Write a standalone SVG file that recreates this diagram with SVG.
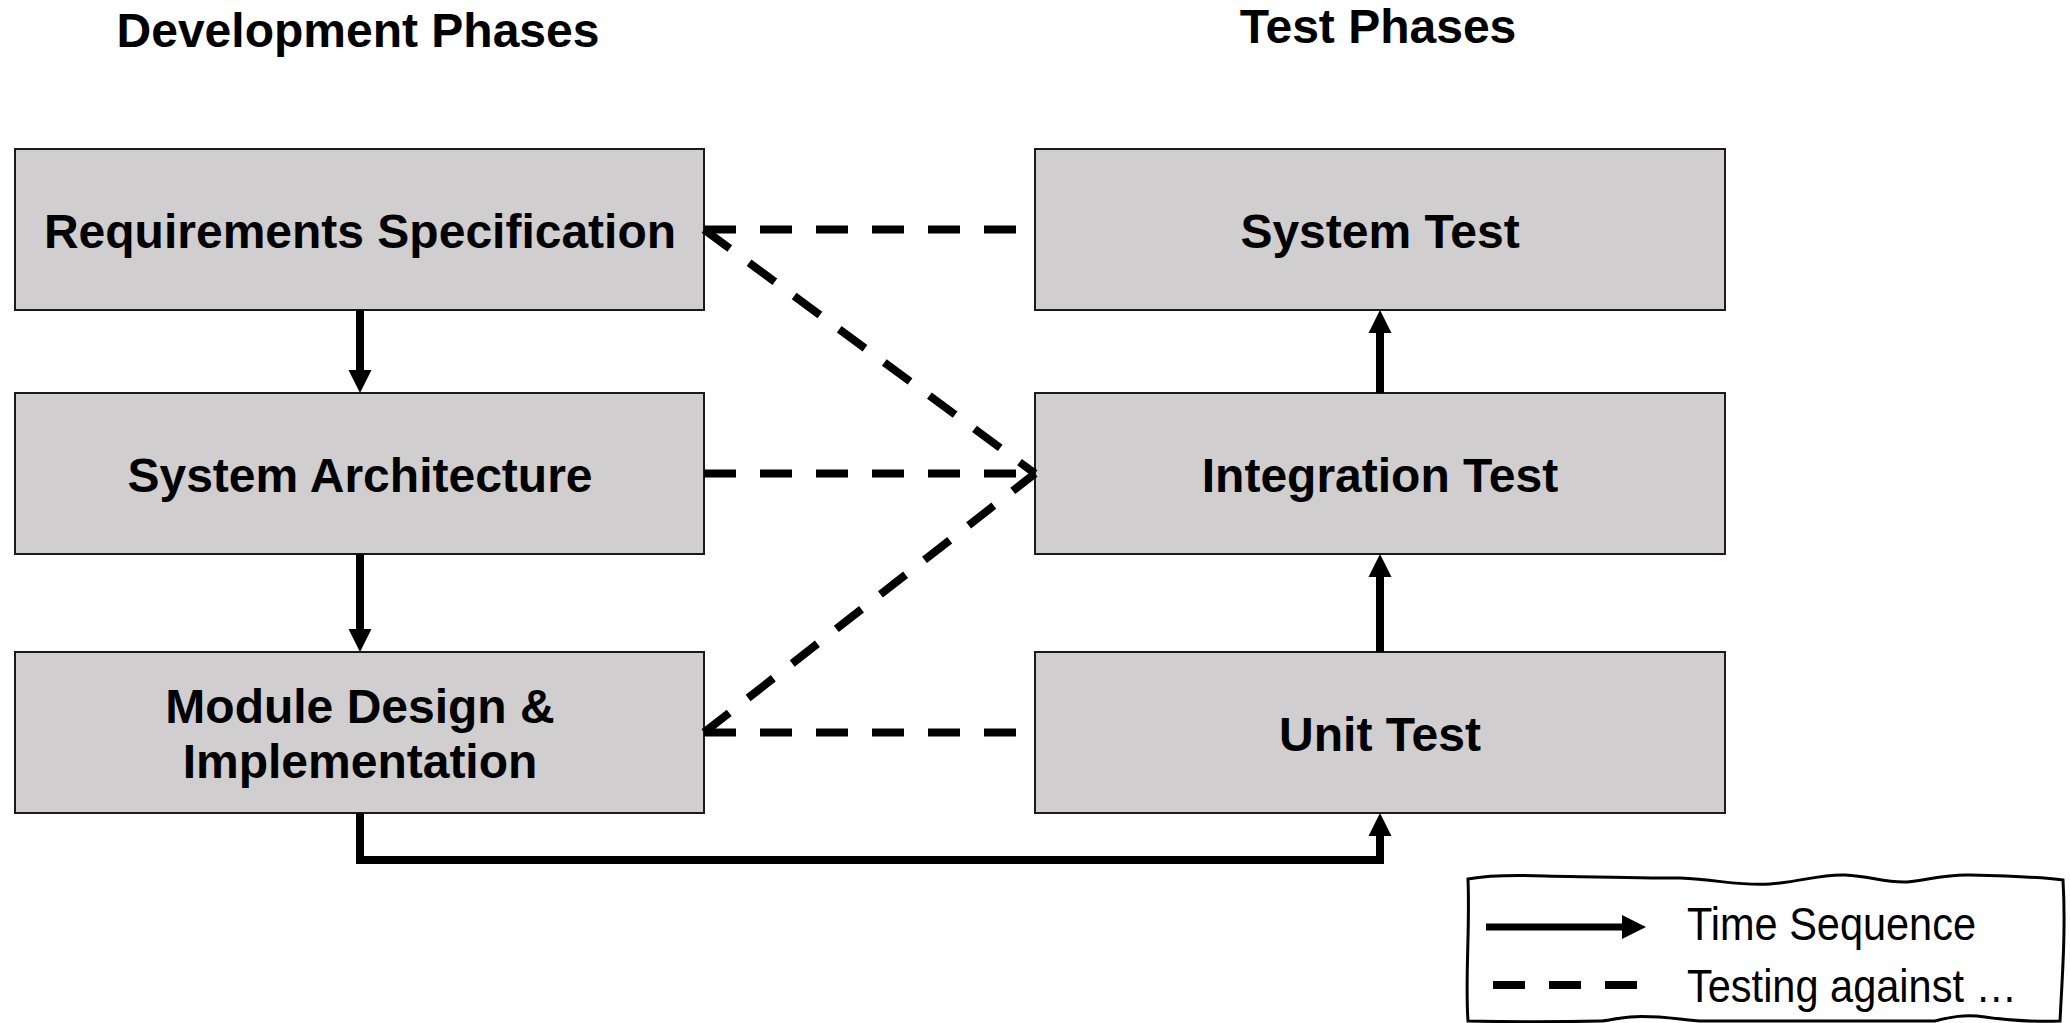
<svg xmlns="http://www.w3.org/2000/svg" width="2070" height="1023" viewBox="0 0 2070 1023">
<style>
.box{fill:#d0cecf;stroke:#1a1a1a;stroke-width:2}
.lbl{font-family:"Liberation Sans",Arial,Helvetica,sans-serif;font-weight:bold;font-size:48px;fill:#000;text-anchor:middle}
.hdr{font-family:"Liberation Sans",Arial,Helvetica,sans-serif;font-weight:bold;font-size:48px;fill:#000;text-anchor:middle}
.solid{fill:none;stroke:#000;stroke-width:8;marker-end:url(#ah)}
.dash{fill:none;stroke:#000;stroke-width:8;stroke-dasharray:32 24}
.leg{font-family:"Liberation Sans",Arial,Helvetica,sans-serif;font-weight:300;font-size:46px;fill:#000}
</style>
<defs>
<marker id="ah" markerUnits="userSpaceOnUse" markerWidth="30" markerHeight="30" refX="0" refY="11.5" orient="auto" overflow="visible">
<path d="M0,0 L23,11.5 L0,23 z" fill="#000"/>
</marker>
</defs>
<rect width="2070" height="1023" fill="#fff"/>
<g id="headers">
<text class="hdr" x="358" y="47">Development Phases</text>
<text class="hdr" x="1378" y="43">Test Phases</text>
</g>
<g id="req">
<rect class="box" x="15" y="149" width="689" height="161"/>
<text class="lbl" x="360" y="248">Requirements Specification</text>
</g>
<g id="arch">
<rect class="box" x="15" y="393" width="689" height="161"/>
<text class="lbl" x="360" y="492">System Architecture</text>
</g>
<g id="module">
<rect class="box" x="15" y="652" width="689" height="161"/>
<text class="lbl" x="360" y="723">Module Design &amp;</text>
<text class="lbl" x="360" y="778">Implementation</text>
</g>
<g id="systest">
<rect class="box" x="1035" y="149" width="690" height="161"/>
<text class="lbl" x="1380" y="248">System Test</text>
</g>
<g id="inttest">
<rect class="box" x="1035" y="393" width="690" height="161"/>
<text class="lbl" x="1380" y="492">Integration Test</text>
</g>
<g id="unittest">
<rect class="box" x="1035" y="652" width="690" height="161"/>
<text class="lbl" x="1380" y="751">Unit Test</text>
</g>
<g id="connectors">
<path class="solid" d="M360,310 V370"/>
<path class="solid" d="M360,554 V629"/>
<path class="solid" d="M360,813 V860 H1380 V836"/>
<path class="solid" d="M1380,652 V577"/>
<path class="solid" d="M1380,393 V333"/>
<path class="dash" d="M704,229.5 H1035"/>
<path class="dash" d="M704,473.5 H1035"/>
<path class="dash" d="M704,732.5 H1035"/>
<path class="dash" d="M704,229.5 L1035,473.5"/>
<path class="dash" d="M704,732.5 L1035,473.5"/>
</g>
<g id="legend">
<path d="M1468,879 C1490,875 1515,875 1545,876 C1600,877 1640,878 1680,878 C1720,880 1740,886 1770,884 C1800,882 1820,874 1845,875 C1870,876 1885,883 1907,882 C1930,880 1945,874 1970,875 C2010,876 2040,877 2063,880 C2066,930 2062,980 2060,1021 C2030,1022 2005,1020 1985,1017 C1965,1014 1950,1017 1935,1021 C1880,1021 1760,1021 1700,1021 C1675,1019 1655,1015 1630,1017 C1615,1018 1608,1021 1600,1021 C1560,1022 1510,1022 1468,1021 C1465,980 1470,930 1468,879 Z" fill="#fff" stroke="#000" stroke-width="3"/>
<path d="M1486,927 H1623" stroke="#000" stroke-width="7" fill="none"/>
<path d="M1622,915 L1646,927 L1622,939 z" fill="#000"/>
<path d="M1493,985 H1637" stroke="#000" stroke-width="8" stroke-dasharray="32 24" fill="none"/>
<text class="leg" x="1687" y="940" textLength="289" lengthAdjust="spacingAndGlyphs">Time Sequence</text>
<text class="leg" x="1687" y="1002" textLength="330" lengthAdjust="spacingAndGlyphs">Testing against …</text>
</g>
</svg>
